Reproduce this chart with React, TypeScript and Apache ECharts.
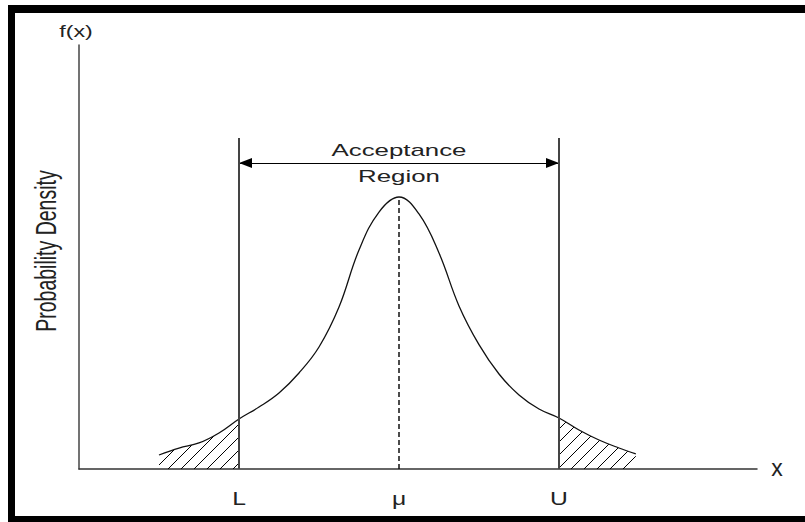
import React, { useEffect, useRef } from "react";
import * as echarts from "echarts";

// ---- data ----
const CURVE_X = [-3.0, -2.75, -2.5, -2.25, -2.0, -1.75, -1.5, -1.25, -1.0, -0.75, -0.5, -0.25, 0, 0.25, 0.5, 0.75, 1.0, 1.25, 1.5, 1.75, 2.0, 2.25, 2.5, 2.75, 2.96];
const CURVE_Y = [0.0206, 0.0309, 0.0383, 0.053, 0.0736, 0.0912, 0.1119, 0.1413, 0.1795, 0.2384, 0.3223, 0.3782, 0.4003, 0.3753, 0.3179, 0.2400, 0.1830, 0.1398, 0.1089, 0.0883, 0.0751, 0.0574, 0.0427, 0.0309, 0.0221];
const LOWER = -2;
const MU = 0;
const UPPER = 2;
const LIMIT_TOP = 0.487;
const ARROW_Y = 0.4503;
const TICK_VALUES = [LOWER, MU, UPPER];
const TICK_LABELS = ["L", "μ", "U"];
const REGION_TEXT = ["Acceptance", "Region"];
const Y_NAME = "f(x)";
const Y_TITLE = "Probability Density";
const X_NAME = "x";

const X_MIN = -4;
const X_MAX = 4.475;
const Y_MAX = 0.624;

const FONT = "'Liberation Sans', Arial, Helvetica, sans-serif";

function makeHatch(): HTMLCanvasElement {
  const s = 13;
  const c = document.createElement("canvas");
  c.width = s;
  c.height = s;
  const ctx = c.getContext("2d")!;
  ctx.strokeStyle = "#000";
  ctx.lineWidth = 1;
  ctx.beginPath();
  ctx.moveTo(-1, s + 1);
  ctx.lineTo(s + 1, -1);
  ctx.moveTo(-2, 2);
  ctx.lineTo(2, -2);
  ctx.moveTo(s - 2, s + 2);
  ctx.lineTo(s + 2, s - 2);
  ctx.stroke();
  return c;
}

export default function App() {
  const ref = useRef<HTMLDivElement>(null);

  useEffect(() => {
    if (!ref.current) return;
    const chart = echarts.init(ref.current, null, { renderer: "svg" });

    const curve = CURVE_X.map((x, i) => [x, CURVE_Y[i]]);
    const leftTail = curve.filter((p) => p[0] <= LOWER);
    const rightTail = curve.filter((p) => p[0] >= UPPER);
    const peak = CURVE_Y[CURVE_X.indexOf(MU)];

    const hatch = makeHatch();
    const pattern = { image: hatch, repeat: "repeat", imageWidth: 13, imageHeight: 13 } as any;

    const option: any = {
      animation: false,
      backgroundColor: "#fff",
      grid: { left: 79, right: 48, top: 45, bottom: 53, containLabel: false },
      xAxis: {
        type: "value",
        min: X_MIN,
        max: X_MAX,
        interval: 1,
        axisLine: { show: true, onZero: false, lineStyle: { color: "#333", width: 1.5 } },
        axisTick: { show: false },
        splitLine: { show: false },
        axisLabel: { show: false },
      },
      yAxis: {
        type: "value",
        min: 0,
        max: Y_MAX,
        axisLine: { show: true, onZero: false, lineStyle: { color: "#444", width: 1.5 } },
        axisTick: { show: false },
        splitLine: { show: false },
        axisLabel: { show: false },
      },
      series: [
        {
          type: "line",
          name: "tailL",
          data: leftTail,
          smooth: 0.4,
          showSymbol: false,
          silent: true,
          lineStyle: { width: 0 },
          areaStyle: { color: pattern, opacity: 1 },
          z: 1,
          markLine: {
            silent: true,
            symbol: ["triangle", "triangle"],
            symbolSize: [10, 13],
            symbolOffset: [[0, 6.5], [0, 6.5]],
            label: { show: false },
            lineStyle: { color: "#000", width: 1, type: "solid" },
            data: [[{ coord: [LOWER, ARROW_Y] }, { coord: [UPPER, ARROW_Y] }]],
          },
        },
        {
          type: "line",
          name: "tailR",
          data: rightTail,
          smooth: 0.4,
          showSymbol: false,
          silent: true,
          lineStyle: { width: 0 },
          areaStyle: { color: pattern, opacity: 1 },
          z: 1,
        },
        {
          type: "line",
          name: "curve",
          data: curve,
          smooth: 0.4,
          showSymbol: false,
          silent: true,
          lineStyle: { color: "#111", width: 1.3 },
          z: 3,
          markLine: {
            silent: true,
            symbol: ["none", "none"],
            label: { show: false },
            data: [
              [
                { coord: [LOWER, 0], lineStyle: { color: "#444", width: 2, type: "solid" } },
                { coord: [LOWER, LIMIT_TOP] },
              ],
              [
                { coord: [UPPER, 0], lineStyle: { color: "#444", width: 2, type: "solid" } },
                { coord: [UPPER, LIMIT_TOP] },
              ],
              [
                { coord: [MU, 0], lineStyle: { color: "#111", width: 1.5, type: [5, 3] } },
                { coord: [MU, peak] },
              ],
            ],
          },
        },
      ],
    };

    chart.setOption(option);

    const toPx = (x: number, y: number) =>
      chart.convertToPixel({ gridIndex: 0 }, [x, y]) as number[];
    const [muX, arrowPy] = toPx(MU, ARROW_Y);
    const [axisX, axisTopY] = toPx(X_MIN, Y_MAX);
    const [endX, baseY] = toPx(X_MAX, 0);
    const [, midY] = toPx(X_MIN, Y_MAX * 0.514);

    const textStyle = (text: string, size: number) => ({
      text,
      fontSize: size,
      fontFamily: FONT,
      fill: "#222",
      align: "center",
      verticalAlign: "middle",
    });

    const tickTexts = TICK_VALUES.map((v, i) => {
      const [tx] = toPx(v, 0);
      return {
        type: "text",
        id: "tick" + i,
        silent: true,
        x: tx,
        y: baseY + 30,
        scaleX: 1.3,
        style: textStyle(TICK_LABELS[i], 19),
      };
    });

    chart.setOption({
      graphic: [
        // frame
        { type: "rect", id: "fL", silent: true, z: 100, shape: { x: 8, y: 5, width: 7, height: 517 }, style: { fill: "#000" } },
        { type: "rect", id: "fT", silent: true, z: 100, shape: { x: 8, y: 5, width: 797, height: 8 }, style: { fill: "#000" } },
        { type: "rect", id: "fB", silent: true, z: 100, shape: { x: 8, y: 516, width: 797, height: 6 }, style: { fill: "#000" } },
        // texts
        { type: "text", id: "t1", silent: true, x: muX, y: arrowPy - 13, scaleX: 1.52, style: textStyle(REGION_TEXT[0], 17) },
        { type: "text", id: "t2", silent: true, x: muX, y: arrowPy + 13, scaleX: 1.52, style: textStyle(REGION_TEXT[1], 17) },
        { type: "text", id: "t3", silent: true, x: axisX - 3, y: axisTopY - 14, scaleX: 1.45, style: textStyle(Y_NAME, 16) },
        { type: "text", id: "t4", silent: true, x: 46, y: midY, rotation: Math.PI / 2, scaleY: 1.5, style: textStyle(Y_TITLE, 19.5) },
        { type: "text", id: "t5", silent: true, x: endX + 20, y: baseY - 1, style: textStyle(X_NAME, 23) },
        ...tickTexts,
      ],
    });

    return () => chart.dispose();
  }, []);

  return (
    <div
      ref={ref}
      style={{ position: "absolute", left: 0, top: 0, width: 805, height: 522, background: "#fff" }}
    />
  );
}
